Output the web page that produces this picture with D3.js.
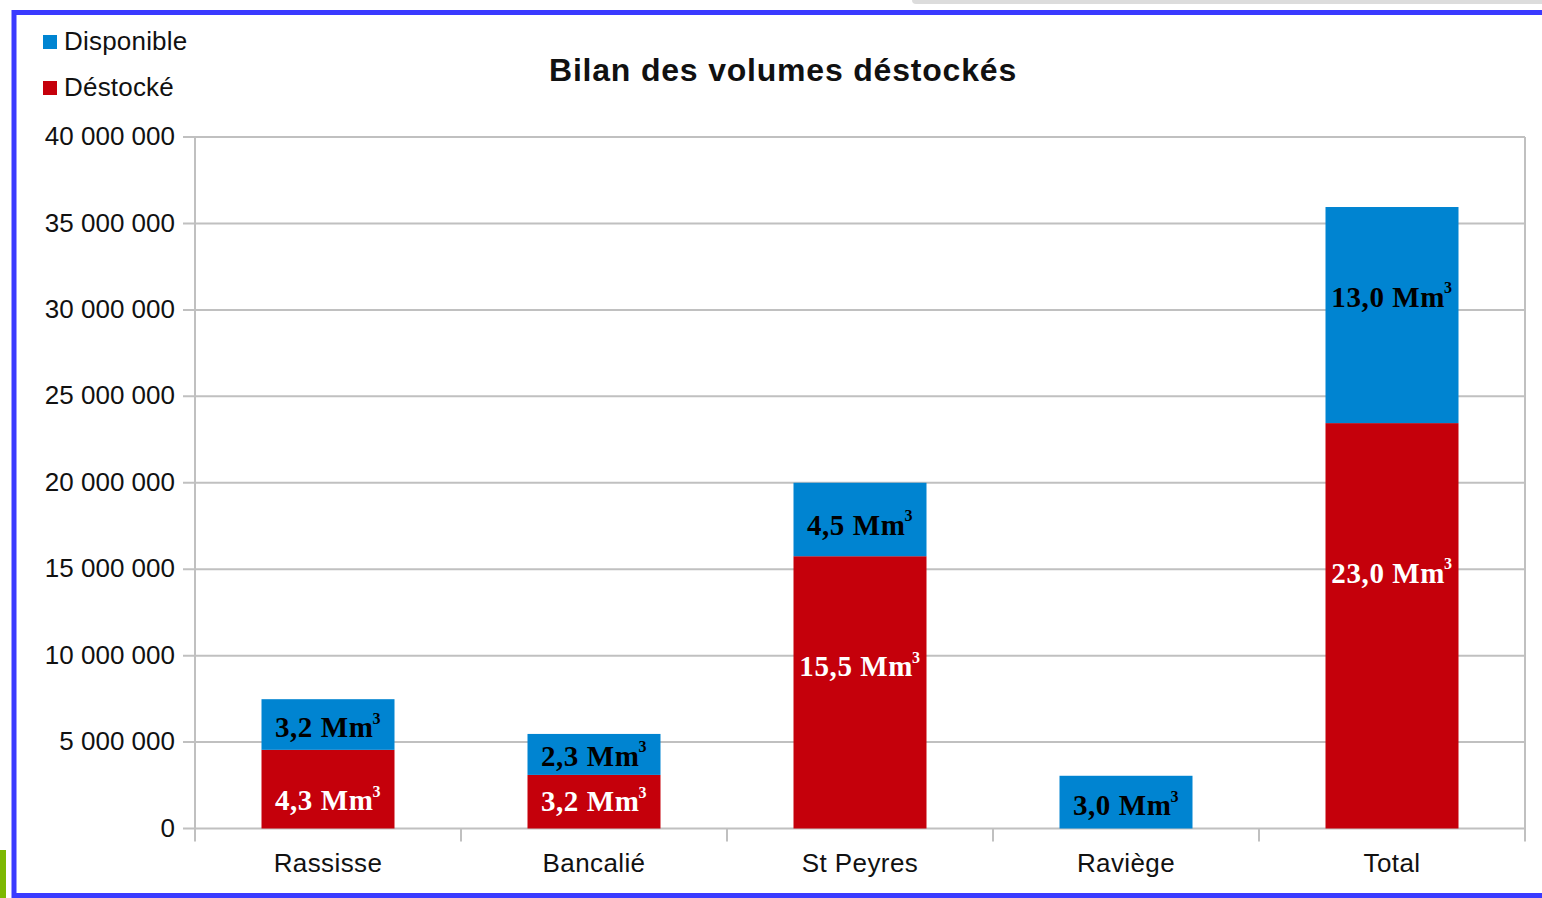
<!DOCTYPE html>
<html>
<head>
<meta charset="utf-8">
<script src="https://cdn.jsdelivr.net/npm/d3@7"></script>
<style>
  html, body { margin: 0; padding: 0; background: #fff; overflow: hidden; }
  svg { display: block; }
</style>
</head>
<body>
<svg id="chart" width="1542" height="898"></svg>
<script>
// data (m3)
const categories = ["Rassisse", "Bancalié", "St Peyres", "Raviège", "Total"];
const destocke = [4.55e6, 3.1e6, 15.75e6, 0, 23.45e6];
const disponible = [2.93e6, 2.37e6, 4.25e6, 3.05e6, 12.5e6];
const destockeLabels = ["4,3", "3,2", "15,5", "", "23,0"];
const disponibleLabels = ["3,2", "2,3", "4,5", "3,0", "13,0"];
// where the hand-placed labels sit, in m3
const destockeLabelAt = [1.65e6, 1.59e6, 9.4e6, 0, 14.8e6];
const disponibleLabelAt = [5.87e6, 4.2e6, 17.56e6, 1.36e6, 30.76e6];
const yTicks = [0, 5e6, 10e6, 15e6, 20e6, 25e6, 30e6, 35e6, 40e6];

const colors = { disponible: "#0084d1", destocke: "#c5000b" };
const sans = "'Liberation Sans', Arial, sans-serif";
const serif = "'Liberation Serif', 'Times New Roman', serif";

const svg = d3.select("#chart");

// screenshot frame
svg.append("rect").attr("x", 912).attr("y", -6).attr("width", 640).attr("height", 10)
    .attr("rx", 4).attr("fill", "#dcdcdc");
svg.append("rect").attr("x", 0).attr("y", 850).attr("width", 6).attr("height", 48)
    .attr("fill", "#7cb800");
svg.append("rect").attr("x", 14).attr("y", 12.5).attr("width", 1560).attr("height", 883)
    .attr("fill", "none").attr("stroke", "#3a3aff").attr("stroke-width", 5);

const plot = { left: 195, right: 1525, top: 137, bottom: 828.5 };

const x = d3.scaleBand().domain(categories)
    .range([plot.left, plot.right]).paddingInner(0.5).paddingOuter(0.25);
const y = d3.scaleLinear().domain([0, 40e6]).range([plot.bottom, plot.top]);

const fmt = v => d3.format(",")(v).replace(/,/g, " ");

// grid
svg.append("g").selectAll("line").data(yTicks).join("line")
    .attr("x1", plot.left - 12).attr("x2", plot.right)
    .attr("y1", d => y(d)).attr("y2", d => y(d))
    .attr("stroke", "#c0c0c0").attr("stroke-width", 2);

// y axis line
svg.append("line").attr("x1", plot.left).attr("x2", plot.left)
    .attr("y1", plot.top).attr("y2", plot.bottom + 12)
    .attr("stroke", "#c0c0c0").attr("stroke-width", 2);

// x axis ticks at category boundaries
const step = x.step();
const bounds = d3.range(categories.length + 1).map(i => plot.left + i * step);
svg.append("g").selectAll("line").data(bounds).join("line")
    .attr("x1", d => d).attr("x2", d => d)
    .attr("y1", d => (d === plot.right ? plot.top : plot.bottom))
    .attr("y2", plot.bottom + 13)
    .attr("stroke", "#c0c0c0").attr("stroke-width", 2);

// y tick labels
svg.append("g").selectAll("text").data(yTicks).join("text")
    .attr("x", 175).attr("y", d => y(d) - 1).attr("dy", "0.35em")
    .attr("text-anchor", "end")
    .attr("font-family", sans).attr("font-size", 26)
    .attr("fill", "#111")
    .text(fmt);

// category labels
svg.append("g").selectAll("text").data(categories).join("text")
    .attr("x", d => x(d) + x.bandwidth() / 2).attr("y", 872)
    .attr("text-anchor", "middle")
    .attr("font-family", sans).attr("font-size", 26).attr("letter-spacing", 0.4)
    .attr("fill", "#111")
    .text(d => d);

// bars
const rows = categories.map((c, i) => ({
    cat: c, dest: destocke[i], disp: disponible[i],
    destLabel: destockeLabels[i], dispLabel: disponibleLabels[i],
    destAt: destockeLabelAt[i], dispAt: disponibleLabelAt[i]
}));

svg.append("g").selectAll("rect").data(rows.filter(d => d.dest > 0)).join("rect")
    .attr("x", d => x(d.cat)).attr("width", x.bandwidth())
    .attr("y", d => y(d.dest)).attr("height", d => y(0) - y(d.dest))
    .attr("fill", colors.destocke);

svg.append("g").selectAll("rect").data(rows).join("rect")
    .attr("x", d => x(d.cat)).attr("width", x.bandwidth())
    .attr("y", d => y(d.dest + d.disp)).attr("height", d => y(d.dest) - y(d.dest + d.disp))
    .attr("fill", colors.disponible);

// value labels
function addLabels(data, textOf, atOf, fill) {
    const t = svg.append("g").selectAll("text").data(data).join("text")
        .attr("x", d => x(d.cat) + x.bandwidth() / 2)
        .attr("y", d => y(atOf(d)))
        .attr("dy", "0.35em")
        .attr("text-anchor", "middle")
        .attr("font-family", serif).attr("font-weight", "bold")
        .attr("font-size", 29).attr("letter-spacing", 0.6)
        .attr("fill", fill);
    t.append("tspan").text(d => textOf(d) + " Mm");
    t.append("tspan").attr("font-size", 16).attr("dy", "-0.85em").attr("dx", -1).text("3");
}
addLabels(rows.filter(d => d.destLabel), d => d.destLabel, d => d.destAt, "#fff");
addLabels(rows, d => d.dispLabel, d => d.dispAt, "#000");

// title
svg.append("text").attr("x", 783).attr("y", 81)
    .attr("text-anchor", "middle")
    .attr("font-family", sans).attr("font-weight", "bold").attr("font-size", 32)
    .attr("letter-spacing", 0.8)
    .attr("fill", "#111")
    .text("Bilan des volumes déstockés");

// legend
const legend = [{ name: "Disponible", color: colors.disponible },
                { name: "Déstocké", color: colors.destocke }];
const lg = svg.append("g").selectAll("g").data(legend).join("g")
    .attr("transform", (d, i) => `translate(43, ${41 + i * 46})`);
lg.append("rect").attr("x", 0).attr("y", -6).attr("width", 14).attr("height", 14)
    .attr("fill", d => d.color);
lg.append("text").attr("x", 21).attr("y", 0).attr("dy", "0.35em")
    .attr("font-family", sans).attr("font-size", 26).attr("letter-spacing", 0.2)
    .attr("fill", "#111")
    .text(d => d.name);
</script>
</body>
</html>
